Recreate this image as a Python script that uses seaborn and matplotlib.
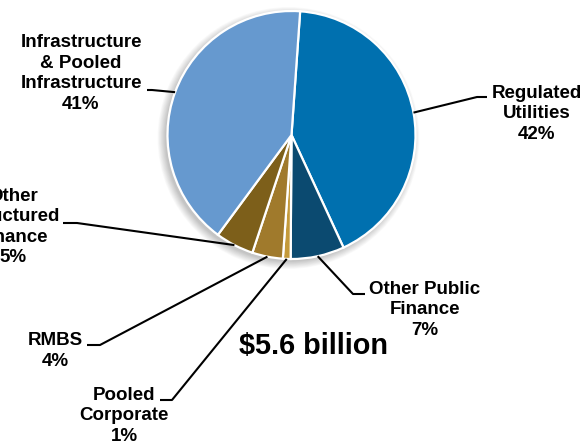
import numpy as np
import matplotlib
matplotlib.use("Agg")
import matplotlib.pyplot as plt
import seaborn as sns
from matplotlib.patches import Circle

# ---- data ----
categories = ["Regulated\nUtilities", "Other Public\nFinance", "Pooled\nCorporate",
              "RMBS", "Other\nStructured\nFinance", "Infrastructure\n& Pooled\nInfrastructure"]
shares = [42, 7, 1, 4, 5, 41]
total_label = "$5.6 billion"

colors = ["#0070AF", "#0B4A70", "#C49A3A", "#A07A2C", "#7D5F1A", "#6699CF"]

sns.set_theme(style="white")
plt.rcParams['font.family'] = ['Liberation Sans', 'DejaVu Sans']

W, H = 585, 445
fig = plt.figure(figsize=(W / 100, H / 100), dpi=100)
ax = fig.add_axes([0, 0, 1, 1])

cx, cy, R = 291.5, H - 135, 124.0

# soft shadow
for i in range(12):
    ax.add_patch(Circle((cx - 3, cy - 3), R + 7 - i * 0.7, color="black",
                        alpha=0.02, lw=0, zorder=0))

wedges, _ = ax.pie(shares, colors=colors, startangle=86, counterclock=False,
                   center=(cx, cy), radius=R,
                   wedgeprops=dict(edgecolor="white", linewidth=1.6))
for w in wedges:
    w.set_zorder(2)

# label layout: (text center x, text center y in px-from-top, elbow points in px-from-top)
layout = [
    (537, 114, [(487, 97), (477, 97)]),
    (425, 310, [(365, 294), (353, 294)]),
    (124, 416, [(160, 400), (172, 400)]),
    (55, 351, [(87, 345), (100, 345)]),
    (13, 227, [(63, 223), (77, 223)]),
    (81, 73.5, [(147, 90), (152, 90)]),
]

for w, cat, sh, (tx, ty, elbow) in zip(wedges, categories, shares, layout):
    mid = np.deg2rad((w.theta1 + w.theta2) / 2)
    ax_x = cx + R * np.cos(mid)
    ax_y = cy + R * np.sin(mid)
    xs = [p[0] for p in elbow] + [ax_x]
    ys = [H - p[1] for p in elbow] + [ax_y]
    ax.plot(xs, ys, color="black", lw=1.5, zorder=3, solid_capstyle="butt")
    ax.text(tx, H - ty, f"{cat}\n{sh}%", ha="center", va="center",
            multialignment="center", fontsize=13.5, fontweight="bold",
            color="black", linespacing=1.27, zorder=4)

ax.text(313.5, H - 346, total_label, ha="center", va="center",
        fontsize=20.8, fontweight="bold", color="black", zorder=4)

ax.set_xlim(0, W)
ax.set_ylim(0, H)
ax.set_aspect("equal")
ax.axis("off")
fig.savefig("out.png", dpi=100, facecolor="white")
